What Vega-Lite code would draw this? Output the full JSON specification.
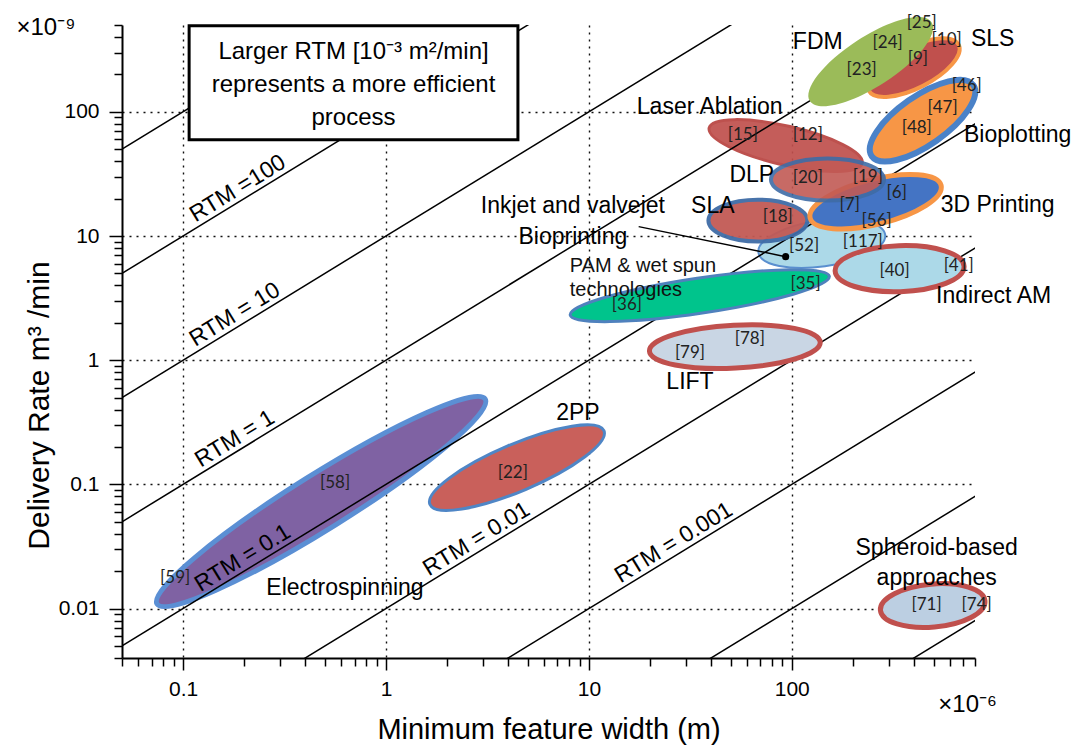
{
  "$schema": "https://vega.github.io/schema/vega-lite/v6.json",
  "width": 853,
  "height": 633,
  "autosize": {"type": "none"},
  "padding": {"left": 122, "top": 25, "right": 103, "bottom": 93},
  "background": "white",
  "config": {
    "view": {"stroke": null},
    "axis": {
      "domainColor": "black", "domainWidth": 2,
      "tickColor": "black", "tickWidth": 1.5,
      "labelFont": "Liberation Sans", "labelFontSize": 21, "labelColor": "black",
      "titleFont": "Liberation Sans", "titleFontSize": 29, "titleFontWeight": "normal", "titleColor": "black",
      "gridColor": "#111", "gridDash": [2, 5], "gridWidth": 1.4,
      "labelOverlap": false, "labelFlush": false
    }
  },
  "datasets": {
    "regions": [
      {"process": "Electrospinning", "x": 0.479, "y": 0.0728},
      {"process": "Laser Ablation", "x": 93.3, "y": 53.5},
      {"process": "Inkjet and valvejet Bioprinting", "x": 140.6, "y": 8.69},
      {"process": "2PP", "x": 4.42, "y": 0.1365},
      {"process": "LIFT", "x": 52.4, "y": 1.285},
      {"process": "Spheroid-based approaches", "x": 495, "y": 0.01057},
      {"process": "PAM & wet spun technologies", "x": 35.2, "y": 3.31},
      {"process": "Indirect AM", "x": 340, "y": 5.46},
      {"process": "SLA", "x": 68.1, "y": 13.3},
      {"process": "DLP", "x": 150, "y": 28.5},
      {"process": "3D Printing", "x": 259, "y": 18.9},
      {"process": "SLS", "x": 399, "y": 227},
      {"process": "FDM", "x": 245, "y": 253.6},
      {"process": "Bioplotting", "x": 441, "y": 84.9}
    ],
    "rtm": [
      {"rtm": 1000, "x": 0.01, "y": 10, "x2": 2000, "y2": 2000000},
      {"rtm": 100, "x": 0.01, "y": 1, "x2": 2000, "y2": 200000},
      {"rtm": 10, "x": 0.01, "y": 0.1, "x2": 2000, "y2": 20000},
      {"rtm": 1, "x": 0.01, "y": 0.01, "x2": 2000, "y2": 2000},
      {"rtm": 0.1, "x": 0.01, "y": 0.001, "x2": 2000, "y2": 200},
      {"rtm": 0.01, "x": 0.01, "y": 0.0001, "x2": 2000, "y2": 20},
      {"rtm": 0.001, "x": 0.01, "y": 0.00001, "x2": 2000, "y2": 2},
      {"rtm": 0.0001, "x": 0.01, "y": 0.000001, "x2": 2000, "y2": 0.2},
      {"rtm": 0.00001, "x": 0.01, "y": 0.0000001, "x2": 2000, "y2": 0.02}
    ],
    "rtmLabels": [
      {"text": "RTM =100", "x": 0.1995, "y": 19.95},
      {"text": "RTM = 10", "x": 0.193, "y": 1.93},
      {"text": "RTM = 1", "x": 0.193, "y": 0.193},
      {"text": "RTM = 0.1", "x": 0.211, "y": 0.0211},
      {"text": "RTM = 0.01", "x": 3.0, "y": 0.03},
      {"text": "RTM = 0.001", "x": 28.1, "y": 0.0281}
    ],
    "box": [{"x": 0.1071, "x2": 4.47, "y": 494, "y2": 59.7}],
    "boxText": [
      {"text": "Larger RTM [10⁻³ m²/min]", "x": 0.692, "y": 305.6},
      {"text": "represents a more efficient", "x": 0.692, "y": 165.6},
      {"text": "process", "x": 0.692, "y": 89.7}
    ],
    "leader": [{"x": 17.6, "y": 11.9, "x2": 93.3, "y2": 6.82}],
    "names": [
      {"text": "FDM", "x": 134.3, "y": 367},
      {"text": "SLS", "x": 977, "y": 388},
      {"text": "Laser Ablation", "x": 39.4, "y": 110},
      {"text": "Bioplotting", "x": 1298, "y": 65.5},
      {"text": "DLP", "x": 63.5, "y": 31.2},
      {"text": "3D Printing", "x": 1035, "y": 17.9},
      {"text": "SLA", "x": 40.8, "y": 17.3},
      {"text": "Inkjet and valvejet", "x": 8.34, "y": 17.3},
      {"text": "Bioprinting", "x": 8.34, "y": 9.89},
      {"text": "Indirect AM", "x": 988, "y": 3.31},
      {"text": "LIFT", "x": 31.5, "y": 0.673},
      {"text": "2PP", "x": 8.83, "y": 0.378},
      {"text": "Electrospinning", "x": 0.628, "y": 0.01476},
      {"text": "Spheroid-based", "x": 518, "y": 0.031},
      {"text": "approaches", "x": 518, "y": 0.01778}
    ],
    "pam": [
      {"text": "PAM  & wet spun", "x": 8.05, "y": 5.78},
      {"text": "technologies", "x": 8.05, "y": 3.7}
    ],
    "refs": [
      {"text": "[25]", "x": 437, "y": 523},
      {"text": "[24]", "x": 297, "y": 361},
      {"text": "[10]", "x": 580, "y": 381},
      {"text": "[9]", "x": 418, "y": 268},
      {"text": "[23]", "x": 221, "y": 219},
      {"text": "[46]", "x": 728, "y": 160},
      {"text": "[47]", "x": 554, "y": 108},
      {"text": "[48]", "x": 413, "y": 74.6},
      {"text": "[15]", "x": 57.4, "y": 65.5},
      {"text": "[12]", "x": 120, "y": 65.5},
      {"text": "[20]", "x": 120, "y": 29.5},
      {"text": "[19]", "x": 237, "y": 30.1},
      {"text": "[6]", "x": 329, "y": 22.4},
      {"text": "[7]", "x": 193, "y": 17.9},
      {"text": "[56]", "x": 262, "y": 13.1},
      {"text": "[18]", "x": 85.3, "y": 14.1},
      {"text": "[52]", "x": 115, "y": 8.37},
      {"text": "[117]", "x": 224, "y": 9.01},
      {"text": "[40]", "x": 321, "y": 5.26},
      {"text": "[41]", "x": 665, "y": 5.78},
      {"text": "[35]", "x": 117, "y": 4.14},
      {"text": "[36]", "x": 15.4, "y": 2.8},
      {"text": "[79]", "x": 31.5, "y": 1.15},
      {"text": "[78]", "x": 62.1, "y": 1.47},
      {"text": "[22]", "x": 4.22, "y": 0.1245},
      {"text": "[58]", "x": 0.561, "y": 0.1033},
      {"text": "[59]", "x": 0.0914, "y": 0.01778},
      {"text": "[71]", "x": 462, "y": 0.01076},
      {"text": "[74]", "x": 815, "y": 0.01076}
    ],
    "exponents": [
      {"text": "×10⁻⁹", "x": 0.0211, "y": 476},
      {"text": "×10⁻⁶", "x": 736, "y": 0.001687}
    ]
  },
  "encoding": {
    "x": {
      "field": "x", "type": "quantitative",
      "scale": {"type": "log", "domain": [0.05, 800], "nice": false},
      "axis": {
        "title": "Minimum feature width (m)",
        "values": [0.05,0.06,0.07,0.08,0.09,0.1,0.2,0.3,0.4,0.5,0.6,0.7,0.8,0.9,1,2,3,4,5,6,7,8,9,10,20,30,40,50,60,70,80,90,100,200,300,400,500,600,700,800],
        "labelExpr": "abs(log(datum.value)/LN10 - round(log(datum.value)/LN10)) < 0.001 ? format(datum.value, '~g') : ''",
        "tickSize": {"condition": {"test": "abs(log(datum.value)/LN10 - round(log(datum.value)/LN10)) < 0.001", "value": 12}, "value": 8},
        "grid": true,
        "gridOpacity": {"condition": {"test": "abs(log(datum.value)/LN10 - round(log(datum.value)/LN10)) < 0.001", "value": 1}, "value": 0},
        "labelPadding": 8,
        "titlePadding": 16
      }
    },
    "y": {
      "field": "y", "type": "quantitative",
      "scale": {"type": "log", "domain": [0.004, 500], "nice": false},
      "axis": {
        "title": "Delivery Rate m³ /min",
        "values": [0.004,0.005,0.006,0.007,0.008,0.009,0.01,0.02,0.03,0.04,0.05,0.06,0.07,0.08,0.09,0.1,0.2,0.3,0.4,0.5,0.6,0.7,0.8,0.9,1,2,3,4,5,6,7,8,9,10,20,30,40,50,60,70,80,90,100,200,300,400,500],
        "labelExpr": "abs(log(datum.value)/LN10 - round(log(datum.value)/LN10)) < 0.001 ? format(datum.value, '~g') : ''",
        "tickSize": {"condition": {"test": "abs(log(datum.value)/LN10 - round(log(datum.value)/LN10)) < 0.001", "value": 13}, "value": 8},
        "grid": true,
        "gridOpacity": {"condition": {"test": "abs(log(datum.value)/LN10 - round(log(datum.value)/LN10)) < 0.001", "value": 1}, "value": 0},
        "labelPadding": 10,
        "titlePadding": 4,
        "titleFontSize": 30,
        "titleY": 380
      }
    }
  },
  "layer": [
    {"data": {"name": "regions"}, "transform": [{"filter": "datum.process === 'Electrospinning'"}],
     "mark": {"type": "point", "shape": "M -1 0 C -1 -0.0784 -0.5523 -0.142 0 -0.142 C 0.5523 -0.142 1 -0.0784 1 0 C 1 0.0784 0.5523 0.142 0 0.142 C -0.5523 0.142 -1 0.0784 -1 0 Z", "size": 149769, "angle": -32, "filled": true, "fill": "#7f62a3", "stroke": "#5b8fd4", "strokeWidth": 5, "opacity": 1}},
    {"data": {"name": "regions"}, "transform": [{"filter": "datum.process === 'Laser Ablation'"}],
     "mark": {"type": "point", "shape": "M -1 0 C -1 -0.137 -0.5523 -0.248 0 -0.248 C 0.5523 -0.248 1 -0.137 1 0 C 1 0.137 0.5523 0.248 0 0.248 C -0.5523 0.248 -1 0.137 -1 0 Z", "size": 24649, "angle": 13, "filled": true, "fill": "#c0504d", "stroke": "#b8433f", "strokeWidth": 3, "opacity": 0.92}},
    {"data": {"name": "regions"}, "transform": [{"filter": "datum.process === 'Inkjet and valvejet Bioprinting'"}],
     "mark": {"type": "point", "shape": "M -1 0 C -1 -0.1983 -0.5523 -0.359 0 -0.359 C 0.5523 -0.359 1 -0.1983 1 0 C 1 0.1983 0.5523 0.359 0 0.359 C -0.5523 0.359 -1 0.1983 -1 0 Z", "size": 16384, "angle": -8, "filled": true, "fill": "#acd9e8", "stroke": "#5a8fcf", "strokeWidth": 2, "opacity": 1}},
    {"data": {"name": "rtm"}, "mark": {"type": "rule", "color": "black", "strokeWidth": 1.5, "clip": true},
     "encoding": {"x2": {"field": "x2"}, "y2": {"field": "y2"}}},
    {"data": {"name": "regions"}, "transform": [{"filter": "datum.process === '2PP'"}],
     "mark": {"type": "point", "shape": "M -1 0 C -1 -0.1375 -0.5523 -0.249 0 -0.249 C 0.5523 -0.249 1 -0.1375 1 0 C 1 0.1375 0.5523 0.249 0 0.249 C -0.5523 0.249 -1 0.1375 -1 0 Z", "size": 35721, "angle": -23, "filled": true, "fill": "#c9605b", "stroke": "#4f86c6", "strokeWidth": 3, "opacity": 1}},
    {"data": {"name": "regions"}, "transform": [{"filter": "datum.process === 'LIFT'"}],
     "mark": {"type": "point", "shape": "M -1 0 C -1 -0.1386 -0.5523 -0.251 0 -0.251 C 0.5523 -0.251 1 -0.1386 1 0 C 1 0.1386 0.5523 0.251 0 0.251 C -0.5523 0.251 -1 0.1386 -1 0 Z", "size": 29241, "angle": -3, "filled": true, "fill": "#c9d6e4", "stroke": "#c0504d", "strokeWidth": 5, "opacity": 1}},
    {"data": {"name": "regions"}, "transform": [{"filter": "datum.process === 'Spheroid-based approaches'"}],
     "mark": {"type": "point", "shape": "M -1 0 C -1 -0.2264 -0.5523 -0.41 0 -0.41 C 0.5523 -0.41 1 -0.2264 1 0 C 1 0.2264 0.5523 0.41 0 0.41 C -0.5523 0.41 -1 0.2264 -1 0 Z", "size": 11025, "angle": -5, "filled": true, "fill": "#bccfe2", "stroke": "#c0504d", "strokeWidth": 5, "opacity": 1}},
    {"data": {"name": "regions"}, "transform": [{"filter": "datum.process === 'PAM & wet spun technologies'"}],
     "mark": {"type": "point", "shape": "M -1 0 C -1 -0.074 -0.5523 -0.134 0 -0.134 C 0.5523 -0.134 1 -0.074 1 0 C 1 0.074 0.5523 0.134 0 0.134 C -0.5523 0.134 -1 0.074 -1 0 Z", "size": 68644, "angle": -8.5, "filled": true, "fill": "#00c48c", "stroke": "#4f81bd", "strokeWidth": 3, "opacity": 1}},
    {"data": {"name": "regions"}, "transform": [{"filter": "datum.process === 'Indirect AM'"}],
     "mark": {"type": "point", "shape": "M -1 0 C -1 -0.1972 -0.5523 -0.357 0 -0.357 C 0.5523 -0.357 1 -0.1972 1 0 C 1 0.1972 0.5523 0.357 0 0.357 C -0.5523 0.357 -1 0.1972 -1 0 Z", "size": 16641, "angle": -2, "filled": true, "fill": "#acd9e8", "stroke": "#c0504d", "strokeWidth": 5, "opacity": 1}},
    {"data": {"name": "regions"}, "transform": [{"filter": "datum.process === 'SLA'"}],
     "mark": {"type": "point", "shape": "M -1 0 C -1 -0.2342 -0.5523 -0.424 0 -0.424 C 0.5523 -0.424 1 -0.2342 1 0 C 1 0.2342 0.5523 0.424 0 0.424 C -0.5523 0.424 -1 0.2342 -1 0 Z", "size": 9801, "angle": 0, "filled": true, "fill": "#c25a55", "stroke": "#3f6ca6", "strokeWidth": 4, "opacity": 0.95}},
    {"data": {"name": "regions"}, "transform": [{"filter": "datum.process === '3D Printing'"}],
     "mark": {"type": "point", "shape": "M -1 0 C -1 -0.1839 -0.5523 -0.333 0 -0.333 C 0.5523 -0.333 1 -0.1839 1 0 C 1 0.1839 0.5523 0.333 0 0.333 C -0.5523 0.333 -1 0.1839 -1 0 Z", "size": 18225, "angle": -14, "filled": true, "fill": "#4474c4", "stroke": "#f79646", "strokeWidth": 5, "opacity": 1}},
    {"data": {"name": "regions"}, "transform": [{"filter": "datum.process === 'DLP'"}],
     "mark": {"type": "point", "shape": "M -1 0 C -1 -0.2055 -0.5523 -0.372 0 -0.372 C 0.5523 -0.372 1 -0.2055 1 0 C 1 0.2055 0.5523 0.372 0 0.372 C -0.5523 0.372 -1 0.2055 -1 0 Z", "size": 12769, "angle": 0, "filled": true, "fill": "#c25a55", "stroke": "#3f6ca6", "strokeWidth": 4, "opacity": 0.9}},
    {"data": {"name": "regions"}, "transform": [{"filter": "datum.process === 'SLS'"}],
     "mark": {"type": "point", "shape": "M -1 0 C -1 -0.2242 -0.5523 -0.406 0 -0.406 C 0.5523 -0.406 1 -0.2242 1 0 C 1 0.2242 0.5523 0.406 0 0.406 C -0.5523 0.406 -1 0.2242 -1 0 Z", "size": 10201, "angle": -27, "filled": true, "fill": "#c0504d", "stroke": "#f79646", "strokeWidth": 4, "opacity": 1}},
    {"data": {"name": "regions"}, "transform": [{"filter": "datum.process === 'FDM'"}],
     "mark": {"type": "point", "shape": "M -1 0 C -1 -0.1905 -0.5523 -0.345 0 -0.345 C 0.5523 -0.345 1 -0.1905 1 0 C 1 0.1905 0.5523 0.345 0 0.345 C -0.5523 0.345 -1 0.1905 -1 0 Z", "size": 21025, "angle": -33, "filled": true, "fill": "#9bbb59", "strokeWidth": 0, "opacity": 1}},
    {"data": {"name": "regions"}, "transform": [{"filter": "datum.process === 'Bioplotting'"}],
     "mark": {"type": "point", "shape": "M -1 0 C -1 -0.2182 -0.5523 -0.395 0 -0.395 C 0.5523 -0.395 1 -0.2182 1 0 C 1 0.2182 0.5523 0.395 0 0.395 C -0.5523 0.395 -1 0.2182 -1 0 Z", "size": 15376, "angle": -35, "filled": true, "fill": "#f79646", "stroke": "#4a82c8", "strokeWidth": 6, "opacity": 1}},
    {"data": {"name": "box"}, "mark": {"type": "rect", "fill": "white", "stroke": "black", "strokeWidth": 3},
     "encoding": {"x2": {"field": "x2"}, "y2": {"field": "y2"}}},
    {"data": {"name": "boxText"}, "mark": {"type": "text", "font": "Liberation Sans", "fontSize": 24, "color": "black", "align": "center", "baseline": "middle"},
     "encoding": {"text": {"field": "text"}}},
    {"data": {"name": "leader"}, "mark": {"type": "rule", "color": "black", "strokeWidth": 1.5},
     "encoding": {"x2": {"field": "x2"}, "y2": {"field": "y2"}}},
    {"data": {"name": "leader"}, "mark": {"type": "point", "filled": true, "color": "black", "size": 50, "opacity": 1},
     "encoding": {"x": {"field": "x2", "type": "quantitative"}, "y": {"field": "y2", "type": "quantitative"}}},
    {"data": {"name": "rtmLabels"}, "mark": {"type": "text", "font": "Liberation Sans", "fontSize": 23, "color": "black", "align": "center", "baseline": "bottom", "angle": -31.5},
     "encoding": {"text": {"field": "text"}}},
    {"data": {"name": "names"}, "mark": {"type": "text", "font": "Liberation Sans", "fontSize": 23, "color": "black", "align": "center", "baseline": "middle"},
     "encoding": {"text": {"field": "text"}}},
    {"data": {"name": "pam"}, "mark": {"type": "text", "font": "Liberation Sans", "fontSize": 20, "color": "#111", "align": "left", "baseline": "middle"},
     "encoding": {"text": {"field": "text"}}},
    {"data": {"name": "refs"}, "mark": {"type": "text", "font": "Lato", "fontSize": 17, "color": "#222", "align": "center", "baseline": "middle"},
     "encoding": {"text": {"field": "text"}}},
    {"data": {"name": "exponents"}, "mark": {"type": "text", "font": "Liberation Sans", "fontSize": 24, "color": "black", "align": "center", "baseline": "middle"},
     "encoding": {"text": {"field": "text"}}}
  ]
}
